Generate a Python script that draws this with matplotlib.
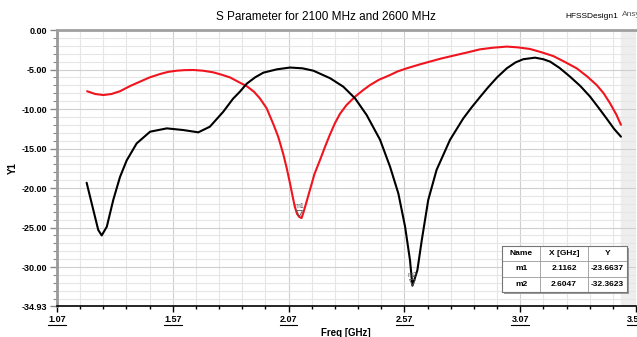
import matplotlib
matplotlib.use("Agg")
import matplotlib.pyplot as plt
from matplotlib.lines import Line2D
from matplotlib.patches import Rectangle
import numpy as np

plt.rcParams["font.family"] = ["Liberation Sans", "DejaVu Sans"]

# ── Data ──────────────────────────────────────────────────────────────────────
freq_black = [1.198, 1.227, 1.248, 1.263, 1.285, 1.313, 1.342, 1.371, 1.414,
              1.472, 1.544, 1.615, 1.680, 1.730, 1.788, 1.830, 1.860, 1.889,
              1.925, 1.961, 2.019, 2.076, 2.130, 2.177, 2.249, 2.306, 2.357,
              2.407, 2.465, 2.508, 2.544, 2.573, 2.594, 2.6047, 2.626, 2.645,
              2.673, 2.709, 2.767, 2.824, 2.860, 2.896, 2.930, 2.970, 3.012,
              3.050, 3.083, 3.134, 3.170, 3.199, 3.240, 3.285, 3.330, 3.372,
              3.410, 3.443, 3.475, 3.505]
s_black = [-19.33, -22.8, -25.3, -26.0, -24.9, -21.5, -18.6, -16.5, -14.35,
           -12.87, -12.45, -12.66, -12.95, -12.24, -10.34, -8.7, -7.8, -6.8,
           -6.0, -5.4, -4.98, -4.75, -4.85, -5.15, -6.1, -7.17, -8.65,
           -10.76, -13.9, -17.3, -20.7, -24.9, -29.1, -32.3623, -30.4, -26.6,
           -21.5, -17.7, -13.9, -11.2, -9.8, -8.5, -7.3, -6.0, -4.85,
           -4.1, -3.7, -3.5, -3.7, -4.0, -4.8, -5.9, -7.1, -8.44,
           -9.9, -11.2, -12.5, -13.5]

freq_red = [1.200, 1.235, 1.270, 1.305, 1.342, 1.385, 1.428, 1.470, 1.515,
            1.550, 1.587, 1.620, 1.659, 1.700, 1.745, 1.780, 1.817, 1.860,
            1.889, 1.920, 1.946, 1.975, 2.004, 2.025, 2.047, 2.062, 2.076,
            2.087, 2.097, 2.107, 2.1162, 2.126, 2.135, 2.145, 2.162, 2.182,
            2.205, 2.227, 2.249, 2.270, 2.292, 2.320, 2.357, 2.390, 2.420,
            2.460, 2.508, 2.540, 2.580, 2.637, 2.680, 2.730, 2.781, 2.840,
            2.896, 2.950, 3.012, 3.060, 3.112, 3.160, 3.213, 3.260, 3.314,
            3.360, 3.400, 3.430, 3.458, 3.485, 3.505]
s_red = [-7.75, -8.1, -8.23, -8.1, -7.75, -7.1, -6.54, -6.0, -5.57,
         -5.3, -5.15, -5.08, -5.06, -5.15, -5.36, -5.65, -6.0, -6.67,
         -7.1, -7.8, -8.65, -9.9, -11.9, -13.5, -15.7, -17.5, -19.4,
         -21.0, -22.4, -23.3, -23.6637, -23.8, -23.0, -22.0, -20.25, -18.2,
         -16.5, -14.8, -13.2, -11.8, -10.6, -9.5, -8.44, -7.65, -7.0,
         -6.3, -5.7, -5.25, -4.85, -4.35, -4.0, -3.6, -3.25, -2.85,
         -2.45, -2.25, -2.1, -2.2, -2.4, -2.8, -3.3, -4.0, -4.85,
         -5.9, -6.96, -8.0, -9.28, -10.7, -12.0]

marker_names = ["m1", "m2"]
marker_x = [2.1162, 2.6047]
marker_y = [-23.6637, -32.3623]

x_ticks = [1.07, 1.57, 2.07, 2.57, 3.07, 3.57]
x_labels = ["1.07", "1.57", "2.07", "2.57", "3.07", "3.57"]
y_ticks = [0, -5, -10, -15, -20, -25, -30, -34.93]
y_labels = ["0.00", "-5.00", "-10.00", "-15.00", "-20.00", "-25.00", "-30.00", "-34.93"]

# ── Figure ────────────────────────────────────────────────────────────────────
W, H = 637, 337
fig = plt.figure(figsize=(W / 100, H / 100), dpi=100)
ax = fig.add_axes([57 / W, 1 - 306 / H, (636 - 57) / W, (306 - 30) / H])

ax.set_xlim(1.07, 3.57)
ax.set_ylim(-34.93, 0)

# grey band at the right edge
ax.axvspan(3.505, 3.57, color="#eeeeee", zorder=0)

# grid
for xv in np.arange(1.07, 3.571, 0.1):
    major = abs(((xv - 1.07) / 0.5) - round((xv - 1.07) / 0.5)) < 1e-6
    ax.axvline(xv, color="#cfcfcf" if major else "#e6e6e6", lw=0.8, zorder=1)
for yv in range(-34, 1):
    ax.axhline(yv, color="#cfcfcf" if yv % 5 == 0 else "#e6e6e6", lw=0.8, zorder=1)

ax.plot(freq_red, s_red, color="#f0141e", lw=1.5, zorder=3,
        solid_joinstyle="round", solid_capstyle="round")
ax.plot(freq_black, s_black, color="black", lw=1.5, zorder=3,
        solid_joinstyle="round", solid_capstyle="round")

# markers
for name, mx, my in zip(marker_names, marker_x, marker_y):
    ax.plot(mx, my + 0.45, marker="v", ms=4, mfc="none", mec="#555555", mew=0.6, zorder=4)
    ax.text(mx, my + 0.9, name, fontsize=5, color="#555555", ha="center", va="bottom", zorder=4)

# axes styling
ax.set_xticks(x_ticks)
ax.set_xticklabels(x_labels, fontsize=6.5, fontweight="bold")
ax.set_xticks(np.arange(1.17, 3.57, 0.1), minor=True)
ax.set_yticks(y_ticks)
ax.set_yticklabels(y_labels, fontsize=6.5, fontweight="bold")
ax.set_yticks(np.arange(-34, 0, 1), minor=True)
ax.tick_params(axis="x", which="major", length=4, width=1, direction="out", pad=2.5)
ax.tick_params(axis="x", which="minor", length=2.5, width=1, direction="out")
ax.tick_params(axis="y", which="major", length=5, width=1, direction="out", color="#888888", pad=2)
ax.tick_params(axis="y", which="minor", length=3, width=0.8, direction="out", color="#888888")
ax.spines["left"].set_color("#999999")
ax.spines["left"].set_linewidth(2)
ax.spines["top"].set_color("#a0a0a0")
ax.spines["top"].set_linewidth(2)
ax.spines["right"].set_visible(False)
ax.spines["bottom"].set_color("black")
ax.spines["bottom"].set_linewidth(1.2)

fig.text(13 / W, 1 - 168 / H, "Y1", fontsize=7, fontweight="bold", rotation=90,
         ha="center", va="center")
fig.text(346 / W, 1 - 333 / H, "Freq [GHz]", fontsize=7, fontweight="bold",
         ha="center", va="center")
fig.text(326 / W, 1 - 17 / H, "S Parameter for 2100 MHz and 2600 MHz", fontsize=8.5,
         ha="center", va="center")
fig.text(565 / W, 1 - 16 / H, "HFSSDesign1", fontsize=6, ha="left", va="center")
fig.text(622 / W, 1 - 14 / H, "Ansys", fontsize=6, ha="left", va="center", color="#555555")

# marker table
tx0, tx1, ty0, ty1 = 502, 627, 246, 292
fig.add_artist(Rectangle((tx0 + 2, H - ty1 - 2), tx1 - tx0, ty1 - ty0, transform=None,
                         facecolor="#9a9a9a", edgecolor="none", zorder=5))
tab = fig.add_axes([tx0 / W, 1 - ty1 / H, (tx1 - tx0) / W, (ty1 - ty0) / H], zorder=6)
tab.set_xlim(tx0, tx1)
tab.set_ylim(ty1, ty0)
tab.set_xticks([])
tab.set_yticks([])
for s in tab.spines.values():
    s.set_color("#777777")
    s.set_linewidth(0.8)
col_edges = [502, 540, 588, 627]
row_edges = [246, 261, 277, 292]
for cx in col_edges[1:-1]:
    tab.axvline(cx, color="#999999", lw=0.6)
for ry in row_edges[1:-1]:
    tab.axhline(ry, color="#999999", lw=0.6)
rows = [["Name", "X [GHz]", "Y"]] + [[n, f"{x:.4f}", f"{y:.4f}"]
                                     for n, x, y in zip(marker_names, marker_x, marker_y)]
for r, row in enumerate(rows):
    for c, txt in enumerate(row):
        tab.text((col_edges[c] + col_edges[c + 1]) / 2, (row_edges[r] + row_edges[r + 1]) / 2,
                 txt, fontsize=6, fontweight="bold", ha="center", va="center")

# underline the x tick labels
fig.canvas.draw()
renderer = fig.canvas.get_renderer()
for lab in ax.get_xticklabels():
    bb = lab.get_window_extent(renderer)
    fig.add_artist(Line2D([bb.x0, bb.x1], [bb.y0 - 1, bb.y0 - 1], transform=None,
                          color="black", lw=0.8))

fig.savefig("out.png", dpi=100)
